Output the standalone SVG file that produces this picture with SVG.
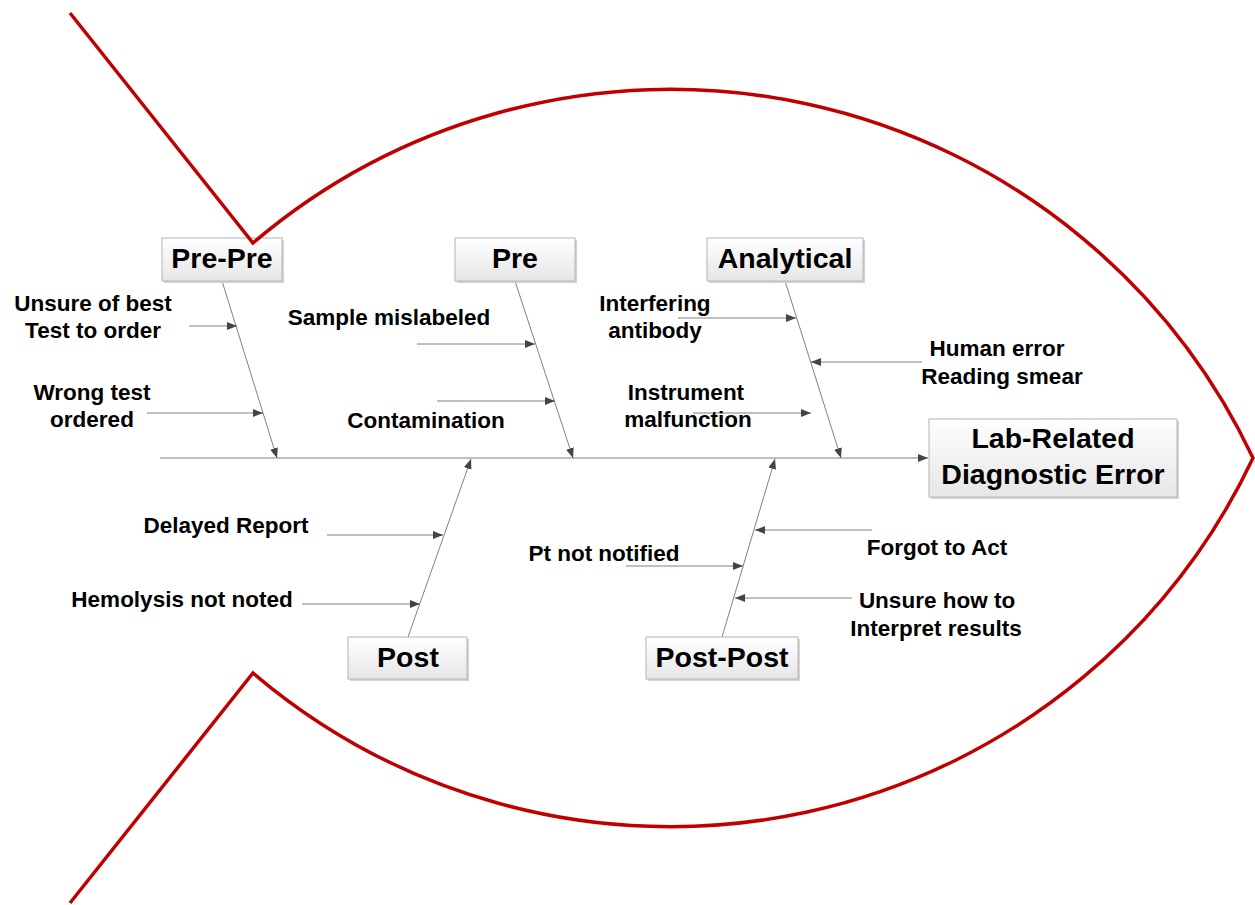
<svg xmlns="http://www.w3.org/2000/svg" width="1255" height="905" viewBox="0 0 1255 905">
<defs>
<linearGradient id="boxg" x1="0" y1="0" x2="0" y2="1">
<stop offset="0" stop-color="#ffffff"/>
<stop offset="1" stop-color="#e6e6e6"/>
</linearGradient>
<marker id="ah" markerUnits="userSpaceOnUse" markerWidth="10" markerHeight="8" refX="10" refY="4" orient="auto">
<path d="M0,0 L10,4 L0,8 z" fill="#444444"/>
</marker>
</defs>
<style>
.box{fill:url(#boxg);stroke:#b4b4b4;stroke-width:1}
.shd{fill:#d4d4d4}
.bt{font-family:"Liberation Sans",Arial,sans-serif;font-weight:bold;font-size:28.5px;fill:#000;text-anchor:middle}
.lt{font-family:"Liberation Sans",Arial,sans-serif;font-weight:bold;font-size:22.5px;fill:#000;text-anchor:middle}
.ln{stroke:#808080;stroke-width:1;fill:none;marker-end:url(#ah)}
.fish{fill:none;stroke:#c00000;stroke-width:3.5;stroke-linejoin:miter}
</style>
<rect width="1255" height="905" fill="#ffffff"/>

<g id="connectors">
<line class="ln" x1="160" y1="458" x2="928" y2="458"/>
<line class="ln" x1="222" y1="281" x2="277" y2="458"/>
<line class="ln" x1="515" y1="281" x2="573" y2="458"/>
<line class="ln" x1="785" y1="281" x2="841" y2="458"/>
<line class="ln" x1="408" y1="637" x2="471" y2="459"/>
<line class="ln" x1="722" y1="637" x2="775" y2="459"/>
<line class="ln" x1="189" y1="326" x2="237" y2="326"/>
<line class="ln" x1="147" y1="413" x2="263" y2="413"/>
<line class="ln" x1="417" y1="344" x2="535" y2="344"/>
<line class="ln" x1="437" y1="401" x2="555" y2="401"/>
<line class="ln" x1="678" y1="318" x2="796" y2="318"/>
<line class="ln" x1="922" y1="362" x2="811" y2="362"/>
<line class="ln" x1="693" y1="413" x2="811" y2="413"/>
<line class="ln" x1="327" y1="535" x2="443" y2="535"/>
<line class="ln" x1="302" y1="604" x2="420" y2="604"/>
<line class="ln" x1="872" y1="530" x2="755" y2="530"/>
<line class="ln" x1="626" y1="566" x2="743" y2="566"/>
<line class="ln" x1="852" y1="598" x2="735" y2="598"/>
</g>

<g id="node-effect">
<rect class="shd" x="931" y="421" width="248" height="78"/>
<rect class="box" x="929" y="419" width="248" height="78"/>
<text class="bt" x="1053" y="448">Lab-Related</text>
<text class="bt" x="1053" y="484">Diagnostic Error</text>
</g>
<g id="node-prepre">
<rect class="shd" x="164" y="240" width="120" height="43"/>
<rect class="box" x="162" y="238" width="120" height="43"/>
<text class="bt" x="222" y="268">Pre-Pre</text>
</g>
<g id="node-pre">
<rect class="shd" x="457" y="240" width="120" height="43"/>
<rect class="box" x="455" y="238" width="120" height="43"/>
<text class="bt" x="515" y="268">Pre</text>
</g>
<g id="node-analytical">
<rect class="shd" x="709" y="240" width="156" height="43"/>
<rect class="box" x="707" y="238" width="156" height="43"/>
<text class="bt" x="785" y="268">Analytical</text>
</g>
<g id="node-post">
<rect class="shd" x="350" y="639" width="119" height="42"/>
<rect class="box" x="348" y="637" width="119" height="42"/>
<text class="bt" x="408" y="667">Post</text>
</g>
<g id="node-postpost">
<rect class="shd" x="648" y="639" width="152" height="42"/>
<rect class="box" x="646" y="637" width="152" height="42"/>
<text class="bt" x="722" y="667">Post-Post</text>
</g>

<g id="labels">
<text class="lt" x="93" y="311">Unsure of best</text>
<text class="lt" x="93" y="338">Test to order</text>
<text class="lt" x="92" y="400">Wrong test</text>
<text class="lt" x="92" y="427">ordered</text>
<text class="lt" x="389" y="325">Sample mislabeled</text>
<text class="lt" x="426" y="428">Contamination</text>
<text class="lt" x="655" y="311">Interfering</text>
<text class="lt" x="655" y="338">antibody</text>
<text class="lt" x="997" y="356">Human error</text>
<text class="lt" x="1002" y="384">Reading smear</text>
<text class="lt" x="686" y="400">Instrument</text>
<text class="lt" x="688" y="427">malfunction</text>
<text class="lt" x="226" y="533">Delayed Report</text>
<text class="lt" x="182" y="607">Hemolysis not noted</text>
<text class="lt" x="604" y="561">Pt not notified</text>
<text class="lt" x="937" y="555">Forgot to Act</text>
<text class="lt" x="937" y="608">Unsure how to</text>
<text class="lt" x="936" y="636">Interpret results</text>
</g>

<g id="fish-outline">
<path class="fish" d="M70 13 L253 243 A644.3 644.3 0 0 1 1253 458 A644.3 644.3 0 0 1 253 673 L70 903"/>
</g>
</svg>
